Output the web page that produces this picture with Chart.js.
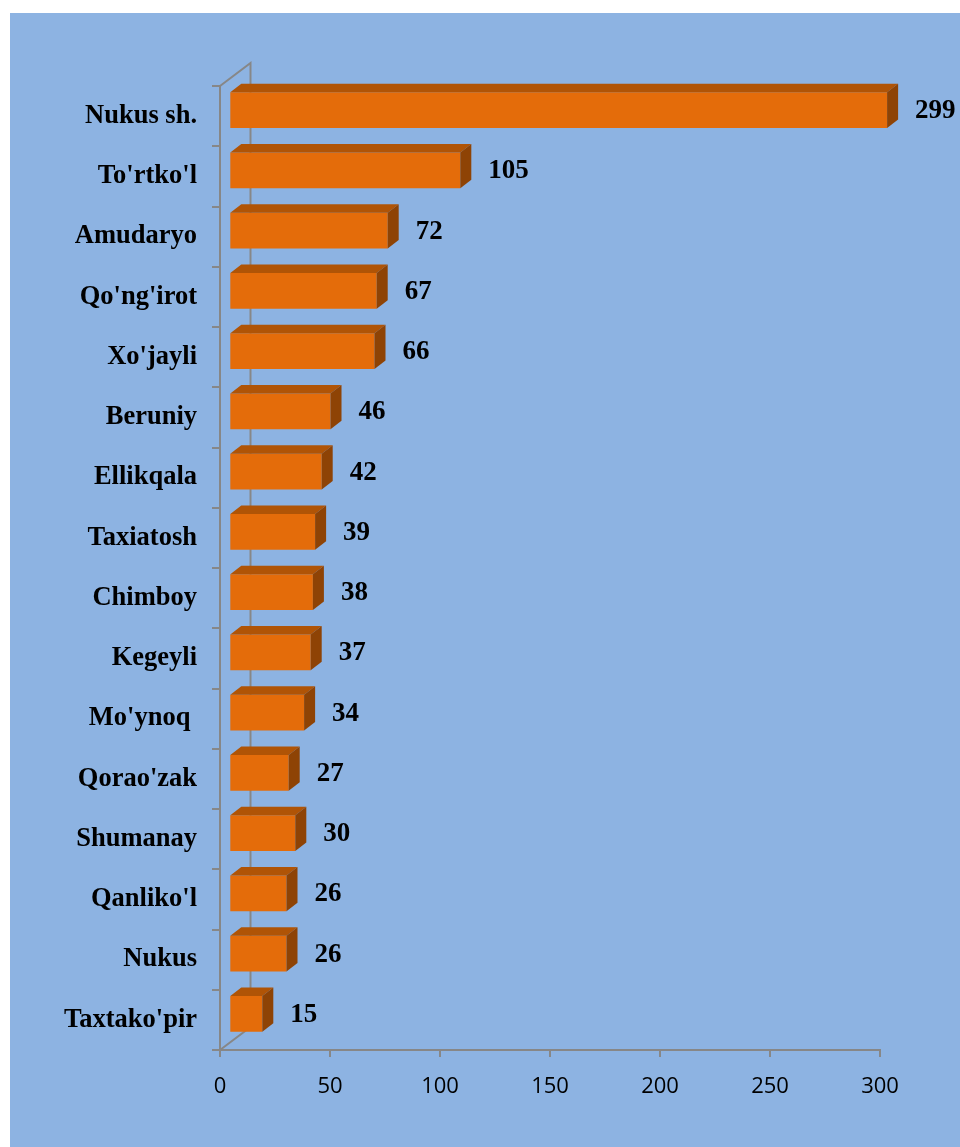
<!DOCTYPE html>
<html>
<head>
<meta charset="utf-8">
<script src="https://cdn.jsdelivr.net/npm/chart.js@4"></script>
<style>
  html, body { margin: 0; padding: 0; background: #ffffff; }
  #wrap { width: 960px; height: 1147px; }
</style>
</head>
<body>
<div id="wrap"><canvas id="c" width="960" height="1147"></canvas></div>
<script>
// ---- data ----
const categories = ["Nukus sh.", "To'rtko'l", "Amudaryo", "Qo'ng'irot", "Xo'jayli", "Beruniy", "Ellikqala", "Taxiatosh", "Chimboy", "Kegeyli", "Mo'ynoq ", "Qorao'zak", "Shumanay", "Qanliko'l", "Nukus", "Taxtako'pir"];
const values = [299, 105, 72, 67, 66, 46, 42, 39, 38, 37, 34, 27, 30, 26, 26, 15];
const xTickValues = [0, 50, 100, 150, 200, 250, 300];

// ---- styles ----
const bgBlue = '#8DB3E2';
const axisGrey = '#878787';
const frontColor = '#E46C0A';
const topColor = '#B05406';
const sideColor = '#8E4305';
const serifBold = "'Liberation Serif', 'Times New Roman', serif";

const barShift = { dx: 9.3, dy: -6 };   // bars sit inside the 3D depth
const barDepth = { dx: 11, dy: 8.5 };
const wallDepth = { dx: 30.5, dy: 23 };

const bgPlugin = {
  id: 'bg',
  beforeDraw(chart) {
    const ctx = chart.ctx;
    ctx.save();
    ctx.fillStyle = '#ffffff';
    ctx.fillRect(0, 0, chart.width, chart.height);
    ctx.fillStyle = bgBlue;
    ctx.fillRect(10, 13, chart.width - 10, chart.height - 13);
    ctx.restore();
  }
};

const threeD = {
  id: 'threeD',
  beforeDatasetsDraw(chart) {
    const ctx = chart.ctx, a = chart.chartArea, xs = chart.scales.x;
    const x0 = xs.getPixelForValue(xTickValues[0]);
    ctx.save();
    ctx.strokeStyle = axisGrey;
    ctx.lineWidth = 2;
    ctx.beginPath();
    ctx.moveTo(x0, a.top);
    ctx.lineTo(x0 + wallDepth.dx, a.top - wallDepth.dy);
    ctx.lineTo(x0 + wallDepth.dx, a.bottom - wallDepth.dy);
    ctx.lineTo(x0, a.bottom);
    ctx.stroke();
    ctx.restore();
    ctx.save();
    ctx.translate(barShift.dx, barShift.dy);
  },
  afterDatasetsDraw(chart) {
    const ctx = chart.ctx;
    const meta = chart.getDatasetMeta(0);
    meta.data.forEach((bar, i) => {
      const p = bar.getProps(['x', 'y', 'base', 'height'], true);
      const left = Math.min(p.base, p.x), right = Math.max(p.base, p.x);
      const top = p.y - p.height / 2, bottom = p.y + p.height / 2;
      // top face
      ctx.fillStyle = topColor;
      ctx.beginPath();
      ctx.moveTo(left, top);
      ctx.lineTo(left + barDepth.dx, top - barDepth.dy);
      ctx.lineTo(right + barDepth.dx, top - barDepth.dy);
      ctx.lineTo(right, top);
      ctx.closePath();
      ctx.fill();
      // side face
      ctx.fillStyle = sideColor;
      ctx.beginPath();
      ctx.moveTo(right, top);
      ctx.lineTo(right + barDepth.dx, top - barDepth.dy);
      ctx.lineTo(right + barDepth.dx, bottom - barDepth.dy);
      ctx.lineTo(right, bottom);
      ctx.closePath();
      ctx.fill();
      // value label
      ctx.fillStyle = '#000000';
      ctx.font = "bold 27px " + serifBold;
      ctx.textAlign = 'left';
      ctx.textBaseline = 'middle';
      ctx.fillText(String(values[i]), right + 28, p.y + 1);
    });
    ctx.restore();
  }
};

new Chart(document.getElementById('c'), {
  type: 'bar',
  data: {
    labels: categories,
    datasets: [{
      data: values,
      backgroundColor: frontColor,
      borderWidth: 0,
      categoryPercentage: 1,
      barPercentage: 0.59,
      clip: false
    }]
  },
  options: {
    indexAxis: 'y',
    responsive: false,
    animation: false,
    layout: { padding: { top: 86, right: 80, left: 0, bottom: 0 } },
    plugins: { legend: { display: false }, tooltip: { enabled: false } },
    scales: {
      x: {
        min: xTickValues[0],
        max: xTickValues[xTickValues.length - 1],
        afterBuildTicks(scale) { scale.ticks = xTickValues.map(v => ({ value: v })); },
        afterFit(scale) { scale.height = 97; },
        grid: { drawOnChartArea: false, color: axisGrey, lineWidth: 2, tickLength: 7 },
        border: { display: true, color: axisGrey, width: 2 },
        ticks: {
          padding: 17,
          color: '#000000',
          font: { family: "'Open Sans', sans-serif", size: 22 },
          maxRotation: 0
        }
      },
      y: {
        afterFit(scale) { scale.width = 220; },
        grid: { drawOnChartArea: false, color: axisGrey, lineWidth: 2, tickLength: 8, offset: true },
        border: { display: true, color: axisGrey, width: 2 },
        ticks: {
          padding: 15,
          color: '#000000',
          font: { family: serifBold, size: 26.5, weight: 'bold' },
          autoSkip: false
        }
      }
    }
  },
  plugins: [bgPlugin, threeD]
});
</script>
</body>
</html>
